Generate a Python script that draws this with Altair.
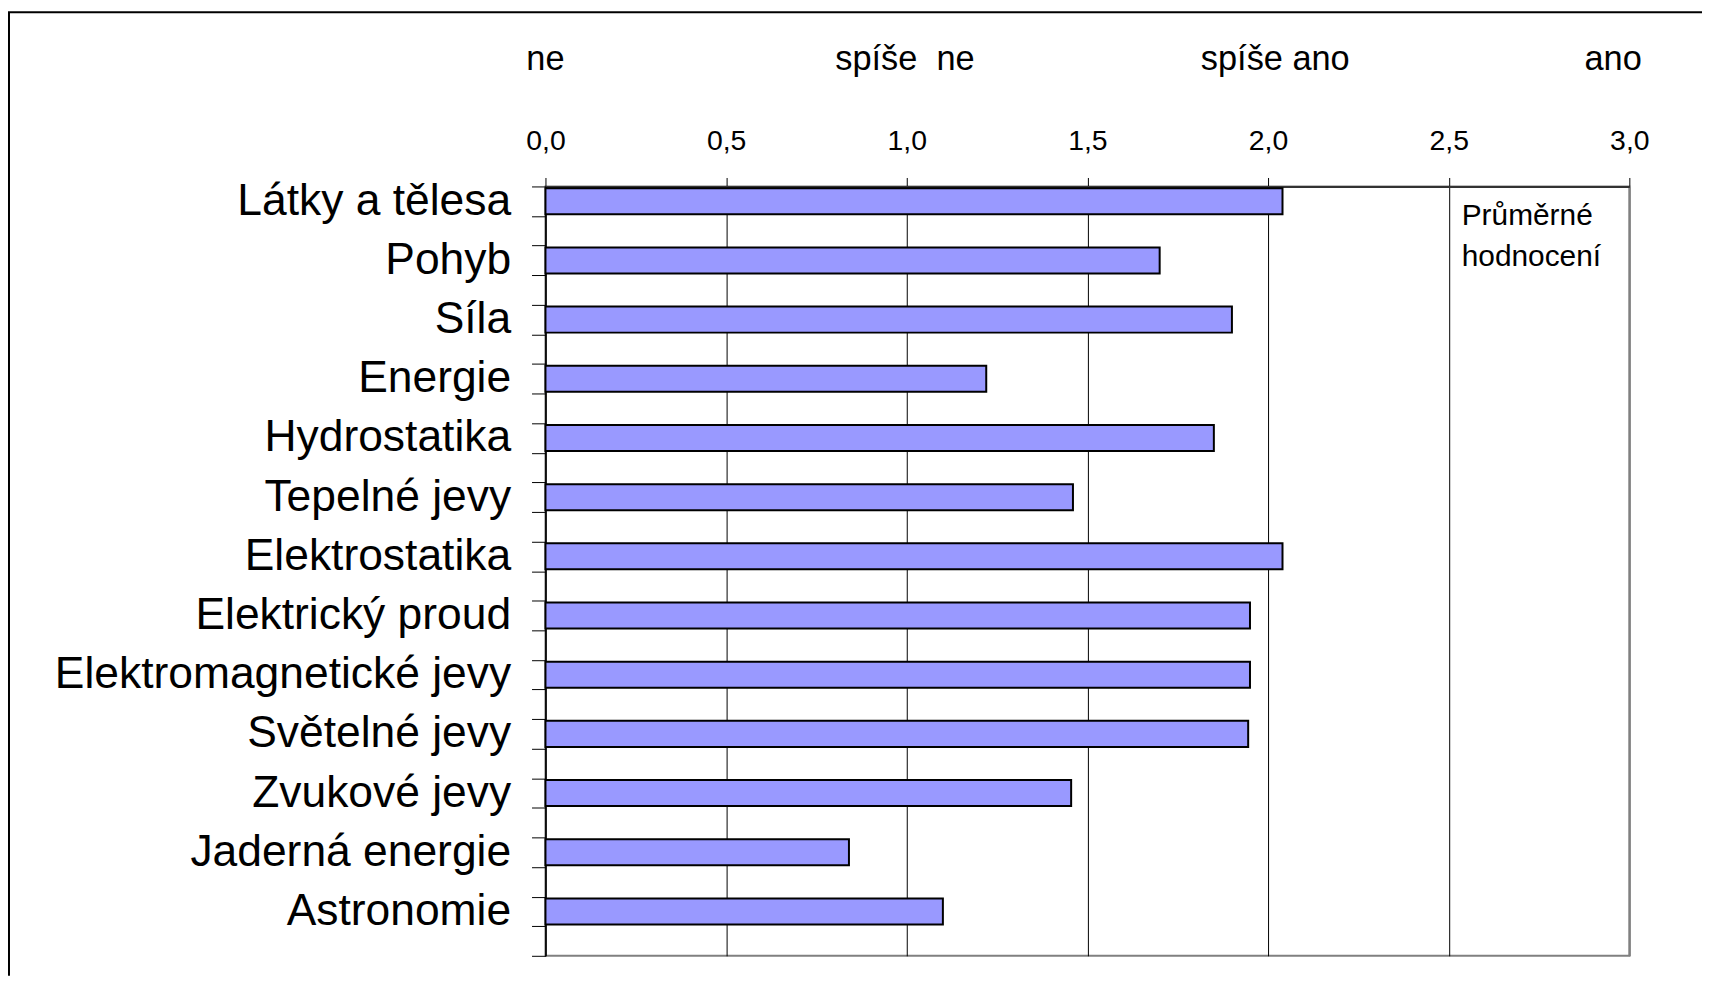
import altair as alt
import pandas as pd

categories = ["Látky a tělesa", "Pohyb", "Síla", "Energie", "Hydrostatika",
              "Tepelné jevy", "Elektrostatika", "Elektrický proud",
              "Elektromagnetické jevy", "Světelné jevy", "Zvukové jevy",
              "Jaderná energie", "Astronomie"]
values = [2.04, 1.70, 1.90, 1.22, 1.85, 1.46, 2.04, 1.95, 1.95, 1.945, 1.455, 0.84, 1.10]

scale_labels = ["ne", "spíše\u00a0 ne", "spíše ano", "ano"]
scale_label_pos = [0.0, 0.995, 2.02, 2.955]
x_ticks = [0, 0.5, 1.0, 1.5, 2.0, 2.5, 3.0]
legend_lines = ["Průměrné", "hodnocení"]

FONT = "Liberation Sans"
W, H = 1089, 773
PAD_L, PAD_T, PAD_R, PAD_B = 540, 177, 73, 20

# each category followed by an empty slot (as in the original sheet)
slots = []
for i, c in enumerate(categories):
    slots += [c, "\u00a0" * (i + 1)]

bars_df = pd.DataFrame({"cat": categories, "val": values})
top_df = pd.DataFrame({"label": scale_labels, "pos": scale_label_pos})
one_df = pd.DataFrame({"k": [0]})

x_scale = alt.Scale(domain=[0, 3], nice=False, zero=True)
y_scale = alt.Scale(domain=slots, paddingInner=0, paddingOuter=0)

bars = alt.Chart(bars_df).mark_bar(
    color="#9999FF", stroke="black", strokeWidth=2, height={"band": 0.88}
).encode(
    x=alt.X("val:Q", scale=x_scale, axis=alt.Axis(
        orient="top", values=x_ticks, title=None,
        labelExpr="replace(format(datum.value, '.1f'), '.', ',')",
        labelFont=FONT, labelFontSize=28.5, labelColor="black",
        labelBaseline="middle", labelPadding=37, labelFlush=False,
        tickSize=9, tickColor="black", tickWidth=1,
        domainColor="#333333", domainWidth=2,
        grid=True,
        gridColor={"condition": {"test": "datum.value >= 3", "value": "#808080"}, "value": "black"},
        gridWidth={"condition": {"test": "datum.value >= 3", "value": 2}, "value": 1},
    )),
    y=alt.Y("cat:N", scale=y_scale, sort=None, axis=alt.Axis(
        title=None, tickBand="extent", tickSize=14, tickColor="black", tickWidth=1,
        domainColor="black", domainWidth=1.5,
        labelFont=FONT, labelFontSize=44.6, labelColor="black",
        labelPadding=21, labelLimit=800, grid=False,
    )),
)

top_labels = alt.Chart(top_df).mark_text(
    font=FONT, fontSize=34.5, color="black", baseline="middle", align="center"
).encode(
    x=alt.X("pos:Q", scale=x_scale),
    y=alt.value(-127),
    text="label:N",
)

legend_text = alt.Chart(one_df).mark_text(
    font=FONT, fontSize=30, color="black", align="left", baseline="middle", lineHeight=41
).encode(
    x=alt.datum(2.536),
    y=alt.value(30),
    text=alt.value(legend_lines),
)

frame_top = alt.Chart(one_df).mark_rule(color="black", strokeWidth=2).encode(
    x=alt.value(-PAD_L), x2=alt.value(W + PAD_R), y=alt.value(-PAD_T + 2)
)
frame_left = alt.Chart(one_df).mark_rule(color="black", strokeWidth=2).encode(
    x=alt.value(-PAD_L + 1), y=alt.value(-PAD_T + 2), y2=alt.value(H + PAD_B)
)

chart = alt.layer(bars, top_labels, legend_text, frame_top, frame_left).properties(
    width=W, height=H,
    autosize=alt.AutoSizeParams(type="none"),
    padding={"left": PAD_L, "top": PAD_T, "right": PAD_R, "bottom": PAD_B},
    background="white",
).configure_view(stroke="#808080", strokeWidth=2)

chart.save("out.html", embed_options={"renderer": "svg", "actions": False})
